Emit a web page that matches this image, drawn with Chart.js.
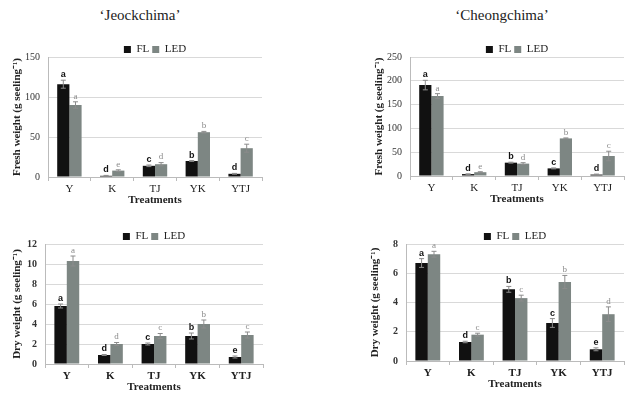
<!DOCTYPE html>
<html>
<head>
<meta charset="utf-8">
<script src="https://cdn.jsdelivr.net/npm/chart.js@4.4.0/dist/chart.umd.min.js"></script>
<style>
body { margin: 0; background: #fff; width: 634px; height: 397px; overflow: hidden; position: relative; font-family: "Liberation Serif", serif; }
.titulo { position: absolute; font-size: 15px; color: #222; transform: translateX(-50%); white-space: nowrap; }
.caja { position: absolute; }
</style>
</head>
<body>
<div class="titulo" style="left:140px; top:7px;">‘Jeockchima’</div>
<div class="titulo" style="left:502px; top:7px;">‘Cheongchima’</div>
<div class="caja" style="left:0px; top:41px; width:275px; height:166px;"><canvas id="g1"></canvas></div>
<div class="caja" style="left:362px; top:41px; width:272px; height:165px;"><canvas id="g2"></canvas></div>
<div class="caja" style="left:0px; top:228px; width:275px; height:166px;"><canvas id="g3"></canvas></div>
<div class="caja" style="left:358px; top:228px; width:276px; height:163px;"><canvas id="g4"></canvas></div>
<script>
const tratamientos = ["Y", "K", "TJ", "YK", "YTJ"];

// fresh weight - Jeockchima
const frescoJeokFL = [116, 1.5, 14, 20, 4];
const frescoJeokLED = [90, 8, 16, 56, 36];
const errFrescoJeokFL = [5, 0.5, 1, 0.5, 0.5];
const errFrescoJeokLED = [4, 1, 2, 1, 5];
const letFrescoJeokFL = ["a", "d", "c", "b", "d"];
const letFrescoJeokLED = ["a", "e", "d", "b", "c"];

// fresh weight - Cheongchima
const frescoCheongFL = [191, 4, 28, 16, 3];
const frescoCheongLED = [168, 8, 26, 79, 42];
const errFrescoCheongFL = [10, 0.5, 1, 1, 1];
const errFrescoCheongLED = [5, 1, 2, 1, 10];
const letFrescoCheongFL = ["a", "d", "b", "c", "d"];
const letFrescoCheongLED = ["a", "e", "d", "b", "c"];

// dry weight - Jeockchima
const secoJeokFL = [5.8, 0.9, 2.0, 2.8, 0.7];
const secoJeokLED = [10.3, 2.0, 2.8, 4.0, 2.9];
const errSecoJeokFL = [0.2, 0.05, 0.1, 0.3, 0.1];
const errSecoJeokLED = [0.5, 0.15, 0.25, 0.4, 0.3];
const letSecoJeokFL = ["a", "d", "c", "b", "e"];
const letSecoJeokLED = ["a", "d", "c", "b", "c"];

// dry weight - Cheongchima
const secoCheongFL = [6.7, 1.3, 4.9, 2.6, 0.8];
const secoCheongLED = [7.3, 1.8, 4.3, 5.4, 3.2];
const errSecoCheongFL = [0.3, 0.05, 0.2, 0.3, 0.1];
const errSecoCheongLED = [0.2, 0.1, 0.2, 0.45, 0.5];
const letSecoCheongFL = ["a", "d", "b", "c", "e"];
const letSecoCheongLED = ["a", "c", "c", "b", "d"];

const colorFL = "#111111";
const colorLED = "#7d8683";
const serif = "'Liberation Serif', serif";

// legend box is too tall by default (+10), trim it
const leyendaCorta = {
    id: "leyendaCorta",
    beforeInit(chart) {
        const fitOrig = chart.legend.fit;
        chart.legend.fit = function() {
            fitOrig.bind(chart.legend)();
            this.height -= 8;
        };
    }
};

const barrasError = {
    id: "barrasError",
    afterDatasetsDraw(chart) {
        const ctx = chart.ctx;
        const y = chart.scales.y;
        chart.data.datasets.forEach(function(ds, i) {
            const meta = chart.getDatasetMeta(i);
            meta.data.forEach(function(bar, j) {
                const v = ds.data[j];
                const e = ds.errores[j];
                const arriba = y.getPixelForValue(v + e);
                const abajo = y.getPixelForValue(v - e);
                ctx.save();
                ctx.strokeStyle = "#8c8c8c";
                ctx.lineWidth = 1;
                ctx.beginPath();
                ctx.moveTo(bar.x, arriba);
                ctx.lineTo(bar.x, abajo);
                ctx.moveTo(bar.x - 2.5, arriba);
                ctx.lineTo(bar.x + 2.5, arriba);
                ctx.moveTo(bar.x - 2.5, abajo);
                ctx.lineTo(bar.x + 2.5, abajo);
                ctx.stroke();
                ctx.textAlign = "center";
                ctx.textBaseline = "bottom";
                if (i == 0) {
                    ctx.fillStyle = "#111";
                    ctx.font = "bold 9px 'Liberation Sans', sans-serif";
                } else {
                    ctx.fillStyle = "#8a8a8a";
                    ctx.font = "9px " + serif;
                }
                ctx.fillText(ds.letras[j], bar.x, arriba - 1);
                ctx.restore();
            });
        });
    }
};

function grafico(id, cfg) {
    const ctx = document.getElementById(id).getContext("2d");
    return new Chart(ctx, {
        type: "bar",
        data: {
            labels: tratamientos,
            datasets: [{
                    label: "FL",
                    data: cfg.fl,
                    errores: cfg.errFl,
                    letras: cfg.letFl,
                    backgroundColor: colorFL,
                    categoryPercentage: 0.57,
                    barPercentage: 1.0,
                },
                {
                    label: "LED",
                    data: cfg.led,
                    errores: cfg.errLed,
                    letras: cfg.letLed,
                    backgroundColor: colorLED,
                    categoryPercentage: 0.57,
                    barPercentage: 1.0,
                },
            ],
        },
        options: {
            responsive: true,
            maintainAspectRatio: false,
            animation: false,
            layout: {
                padding: { top: 0, right: cfg.padRight, left: 0, bottom: 0 },
            },
            plugins: {
                legend: {
                    position: "top",
                    fullSize: false,
                    labels: {
                        boxWidth: 7,
                        boxHeight: 7,
                        color: "#222",
                        padding: 3,
                        font: { family: serif, size: 11 },
                    },
                },
                tooltip: { enabled: false },
            },
            scales: {
                x: {
                    grid: { display: true, drawOnChartArea: false, offset: true, tickLength: 4, color: "#bbbbbb" },
                    border: { color: "#bbbbbb" },
                    ticks: {
                        color: "#222",
                        padding: 2,
                        font: { family: serif, size: 11, weight: cfg.negrita ? "bold" : "normal" },
                    },
                    title: {
                        display: true,
                        text: "Treatments",
                        color: "#222",
                        padding: { top: 4, bottom: 0 },
                        font: { family: serif, size: 11, weight: "bold" },
                    },
                    afterFit(s) { s.height = 30; },
                },
                y: {
                    min: 0,
                    max: cfg.max,
                    ticks: {
                        stepSize: cfg.paso,
                        color: "#333",
                        padding: 8,
                        font: { family: serif, size: 10, weight: cfg.negrita ? "bold" : "normal" },
                    },
                    grid: { color: "#d9d9d9", drawTicks: false },
                    border: { color: "#bbbbbb" },
                    title: {
                        display: true,
                        text: cfg.tituloY,
                        color: "#222",
                        padding: { top: 11, bottom: 0 },
                        font: { family: serif, size: 11, weight: "bold" },
                    },
                    afterFit(s) { s.width = cfg.anchoY; },
                },
            },
        },
        plugins: [leyendaCorta, barrasError],
    });
}

document.addEventListener("DOMContentLoaded", function() {
    grafico("g1", {
        fl: frescoJeokFL, led: frescoJeokLED,
        errFl: errFrescoJeokFL, errLed: errFrescoJeokLED,
        letFl: letFrescoJeokFL, letLed: letFrescoJeokLED,
        max: 150, paso: 50, tituloY: "Fresh weight (g seeling⁻¹)",
        anchoY: 48, padRight: 13, negrita: false,
    });
    grafico("g2", {
        fl: frescoCheongFL, led: frescoCheongLED,
        errFl: errFrescoCheongFL, errLed: errFrescoCheongLED,
        letFl: letFrescoCheongFL, letLed: letFrescoCheongLED,
        max: 250, paso: 50, tituloY: "Fresh weight (g seeling⁻¹)",
        anchoY: 48, padRight: 10, negrita: false,
    });
    grafico("g3", {
        fl: secoJeokFL, led: secoJeokLED,
        errFl: errSecoJeokFL, errLed: errSecoJeokLED,
        letFl: letSecoJeokFL, letLed: letSecoJeokLED,
        max: 12, paso: 2, tituloY: "Dry weight (g seeling⁻¹)",
        anchoY: 45, padRight: 12, negrita: true,
    });
    grafico("g4", {
        fl: secoCheongFL, led: secoCheongLED,
        errFl: errSecoCheongFL, errLed: errSecoCheongLED,
        letFl: letSecoCheongFL, letLed: letSecoCheongLED,
        max: 8, paso: 2, tituloY: "Dry weight (g seeling⁻¹)",
        anchoY: 48, padRight: 10, negrita: true,
    });
});
</script>
</body>
</html>
